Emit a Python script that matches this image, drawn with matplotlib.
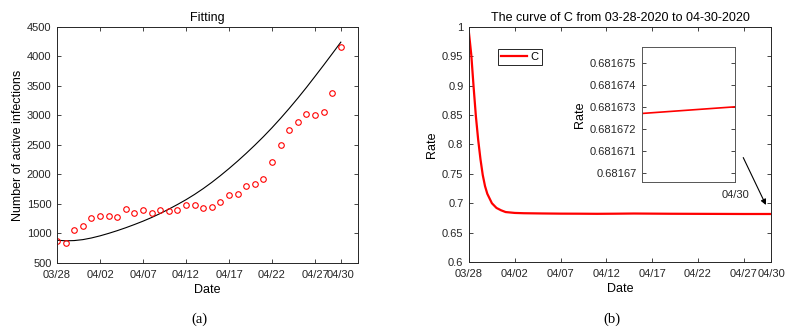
"""Fitting of active infections and the curve of C (03/28 - 04/30)."""
import numpy as np
import matplotlib
matplotlib.use('Agg')
import matplotlib.pyplot as plt

plt.rcParams['font.family'] = ['Liberation Sans', 'DejaVu Sans']

# day index 0 = 03/28
days = list(range(34))
active = [875, 832, 1060, 1131, 1263, 1301, 1301, 1286, 1414, 1343,
          1400, 1355, 1403, 1377, 1406, 1490, 1479, 1431, 1453, 1532,
          1656, 1662, 1805, 1835, 1930, 2212, 2507, 2756, 2891, 3027,
          3010, 3055, 3384, 4165]
fit_vals = [886, 876, 880, 896, 924, 960, 1002, 1048, 1098, 1152,
            1209, 1271, 1339, 1413, 1491, 1573, 1663, 1761, 1867, 1981,
            2101, 2227, 2359, 2497, 2641, 2793, 2953, 3120, 3294, 3475,
            3663, 3853, 4047, 4243]

c_days = [0, 0.25, 0.5, 0.75, 1.0, 1.25, 1.5, 1.75, 2.0, 2.5, 3.0, 3.5,
          4, 5, 6, 8, 10, 12, 14, 16, 18, 20, 22, 24, 26, 28, 30, 33]
c_vals = [0.989, 0.952, 0.898, 0.848, 0.808, 0.775, 0.748, 0.729, 0.716,
          0.700, 0.692, 0.688, 0.685, 0.6835, 0.683, 0.6826, 0.6823, 0.6822,
          0.6820, 0.6822, 0.6825, 0.6823, 0.6821, 0.6820, 0.6819, 0.6818,
          0.6817, 0.6817]

# zoomed piece at the last day
zoom_days = [32, 33]
zoom_vals = [0.6816727, 0.6816730]
zoom_yticks = [0.681670, 0.681671, 0.681672, 0.681673, 0.681674, 0.681675]
zoom_ylabels = ['0.68167', '0.681671', '0.681672', '0.681673', '0.681674', '0.681675']

tick_days = [0, 5, 10, 15, 20, 25, 30, 33]
tick_labels = ['03/28', '04/02', '04/07', '04/12', '04/17', '04/22', '04/27', '04/30']

tc = '#262626'
fs = 8
lfs = 9


def style(ax, color=tc):
    ax.tick_params(direction='in', top=True, right=True, labelsize=fs,
                   colors=tc, length=3, width=0.6)
    ax.tick_params(axis='x', pad=5)
    ax.tick_params(axis='y', pad=4)
    for s in ax.spines.values():
        s.set_color(color)
        s.set_linewidth(0.7)


fig = plt.figure(figsize=(7.9, 3.34), dpi=100)

# (a) fitting
ax1 = fig.add_axes([0.0722, 0.2126, 0.381, 0.7066])
ax1.plot(days, fit_vals, color='k', lw=0.8)
ax1.plot(days, active, 'o', mfc='none', mec='red', ms=4, mew=0.8)
ax1.set_xlim(0, 35)
ax1.set_ylim(500, 4500)
ax1.set_yticks(np.arange(500, 4501, 500))
ax1.set_xticks(tick_days)
ax1.set_xticklabels(tick_labels)
ax1.set_xlabel('Date', fontsize=lfs, labelpad=3)
ax1.set_ylabel('Number of active infections', fontsize=lfs, labelpad=2)
ax1.set_title('Fitting', fontsize=lfs, pad=4.5)
style(ax1)

# (b) curve of C
ax2 = fig.add_axes([0.5937, 0.2156, 0.3823, 0.7036])
ax2.plot(c_days, c_vals, color='red', lw=1.6, label='C')
ax2.set_xlim(0, 33)
ax2.set_ylim(0.6, 1)
ax2.set_yticks(np.arange(0.6, 1.001, 0.05))
ax2.set_yticklabels(['0.6', '0.65', '0.7', '0.75', '0.8', '0.85', '0.9', '0.95', '1'])
ax2.set_xticks(tick_days)
ax2.set_xticklabels(tick_labels)
ax2.set_xlabel('Date', fontsize=lfs, labelpad=3)
ax2.set_ylabel('Rate', fontsize=lfs, labelpad=3)
ax2.set_title('The curve of C from 03-28-2020 to 04-30-2020', fontsize=lfs, pad=4.5)
style(ax2)
leg = ax2.legend(loc='upper left', bbox_to_anchor=(0.096, 0.905), fontsize=8,
                 fancybox=False, edgecolor=tc, framealpha=1, borderaxespad=0,
                 handlelength=2.4, handletextpad=0.3, borderpad=0.25)
leg.get_frame().set_linewidth(0.7)

ax2.annotate('', xy=(0.987, 0.232), xytext=(0.904, 0.455),
             xycoords='axes fraction',
             arrowprops=dict(arrowstyle='-|>', color='k', lw=0.8,
                             mutation_scale=8))

# inset
ax3 = fig.add_axes([0.8127, 0.455, 0.1177, 0.404])
ax3.plot(zoom_days, zoom_vals, color='red', lw=1.2)
ax3.set_xlim(32, 33)
ax3.set_ylim(0.6816696, 0.6816757)
ax3.set_xticks([33])
ax3.set_xticklabels(['04/30'])
ax3.set_yticks(zoom_yticks)
ax3.set_yticklabels(zoom_ylabels)
ax3.set_ylabel('Rate', fontsize=lfs, labelpad=3)
style(ax3, color='#555555')
ax3.tick_params(axis='x', pad=6)

fig.text(0.253, 0.045, '(a)', fontsize=10.5, family='Liberation Serif', ha='center', va='center')
fig.text(0.775, 0.045, '(b)', fontsize=10.5, family='Liberation Serif', ha='center', va='center')

plt.savefig('out.png', dpi=100)
